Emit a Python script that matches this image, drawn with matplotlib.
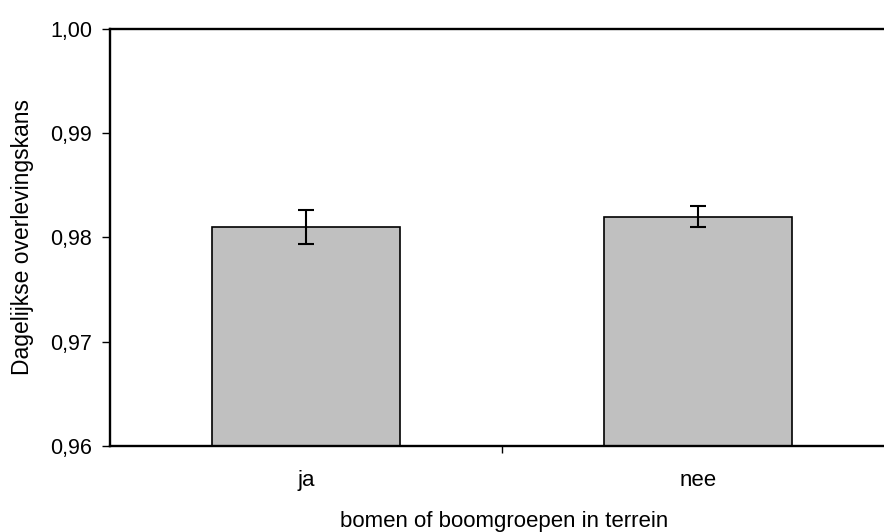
import matplotlib
matplotlib.use("Agg")
import matplotlib.pyplot as plt
from matplotlib.ticker import FuncFormatter, FixedLocator

categories = ["ja", "nee"]
survival = [0.981, 0.982]
errors = [0.0016, 0.001]

plt.rcParams['font.family'] = ['Liberation Sans', 'DejaVu Sans']

fig = plt.figure(figsize=(8.84, 5.32), dpi=100)
ax = fig.add_axes([0.1245, 0.1617, 0.8868, 0.7838])

x = range(len(categories))
ax.bar(x, survival, width=0.48, color='#C0C0C0', edgecolor='black', linewidth=1.2, zorder=2)
ax.errorbar(x, survival, yerr=errors, fmt='none', ecolor='black', elinewidth=1.5,
            capsize=5.8, capthick=1.5, zorder=3)

ax.set_xlim(-0.5, 1.5)
ax.set_ylim(0.96, 1.00)
ax.set_yticks([0.96, 0.97, 0.98, 0.99, 1.00])
ax.yaxis.set_major_formatter(FuncFormatter(lambda v, p: f"{v:.2f}".replace('.', ',')))

# category labels without ticks, one tick between the categories
ax.set_xticks([0.5])
ax.set_xticklabels([])
ax.xaxis.set_minor_locator(FixedLocator(list(x)))
ax.set_xticklabels(categories, minor=True)
ax.tick_params(axis='x', which='minor', length=0, pad=17, labelsize=16)
ax.tick_params(axis='x', which='major', length=5, width=1, direction='out')
ax.tick_params(axis='y', length=6, width=1, direction='out', labelsize=15.5, pad=7)

for s in ['top', 'bottom', 'left']:
    ax.spines[s].set_linewidth(1.7)
ax.spines['right'].set_visible(False)

fig.text(23 / 884, 0.5536, "Dagelijkse overlevingskans", fontsize=16.5, rotation=90,
         ha='center', va='center')
fig.text(0.570, 0.0094, "bomen of boomgroepen in terrein", fontsize=16,
         ha='center', va='baseline')

fig.savefig("out.png", dpi=100)
